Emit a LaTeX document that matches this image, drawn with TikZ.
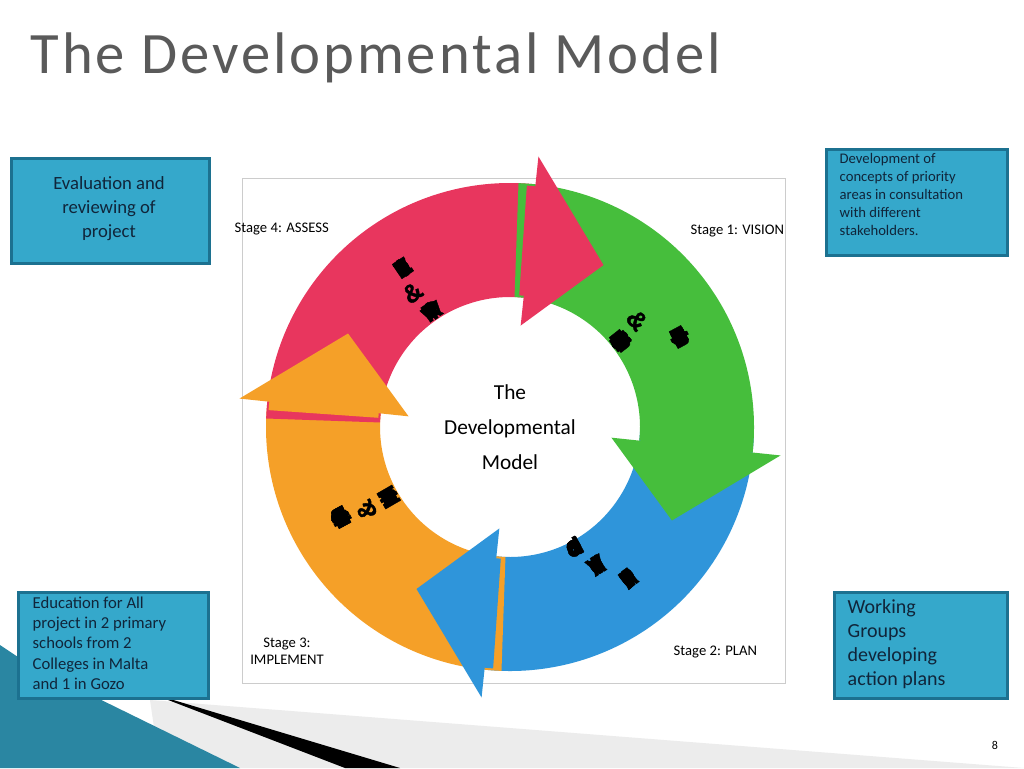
\documentclass[tikz,border=0pt]{standalone}
\usepackage{fontspec}
\setmainfont{Carlito}
\newfontfamily\heavy[FakeBold=1.5]{Liberation Sans}
\definecolor{boxfill}{HTML}{35A8CB}
\definecolor{boxline}{HTML}{1C7190}
\definecolor{boxtext}{HTML}{10253A}
\definecolor{titlegray}{HTML}{5A5A5A}
\definecolor{ared}{HTML}{E8365E}
\definecolor{agreen}{HTML}{46BE3C}
\definecolor{ablue}{HTML}{2F95DA}
\definecolor{aorange}{HTML}{F5A028}
\newcommand{\ringfont}{\heavy\bfseries\fontsize{19}{19}\selectfont}
\tikzset{
  infobox/.style={draw=boxline, line width=2pt, fill=boxfill, text=boxtext, anchor=north west, inner sep=0pt},
  stagelbl/.style={font=\fontsize{11}{13}\selectfont, text=black},
  ringletter/.style={font=\ringfont, inner sep=0pt}
}
\newcommand{\ringbody}[2]{% tip angle, colour
  \fill[#2] ({#1+118}:130) arc[start angle={#1+118}, end angle={#1+24}, radius=130]
    -- ({#1+24}:244) arc[start angle={#1+24}, end angle={#1+118}, radius=244] -- cycle;}
\newcommand{\ringhead}[2]{%
  \fill[#2] ({#1+26}:132) arc[start angle={#1+26}, end angle={#1+24}, radius=132]
    -- ({#1+24}:102) -- (#1:187) -- ({#1+24}:272) -- ({#1+24}:242)
    arc[start angle={#1+24}, end angle={#1+26}, radius=242] -- cycle;}
\newcommand{\atxt}[4]{% centre angle, radius, word, letters
  \setbox0\hbox{\ringfont #3}\pgfmathsetmacro{\tot}{\the\wd0}
  \xdef\off{0}
  \foreach \ch in {#4} {
    \setbox0\hbox{\ringfont\ch}
    \pgfmathsetmacro{\ang}{#1-(\off+\the\wd0/2-\tot/2)/(0.75*#2)*57.296}
    \node[ringletter, rotate=\ang-90] at (\ang:#2) {\ch};
    \pgfmathsetmacro{\newoff}{\off+\the\wd0}
    \xdef\off{\newoff}
  }}
\begin{document}
\begin{tikzpicture}[x=0.75pt,y=-0.75pt]
\useasboundingbox (0,0) rectangle (1024,768);
\fill[white] (0,0) rectangle (1024,768);
\fill[gray!15] (150,700) -- (1024,768) -- (160,768) -- cycle;
\fill[black] (150,693) -- (400,768) -- (345,768) -- cycle;
\fill[boxfill!80!black] (0,645) -- (30,665) -- (240,768) -- (0,768) -- cycle;
\node[anchor=west, text=titlegray, font=\fontsize{44}{48}\selectfont\addfontfeatures{LetterSpace=5}] (title) at (26,58) {The Developmental Model};
\draw[gray!40] (242,178) rectangle (785,683);
\node[stagelbl, anchor=west] (s4) at (230,229) {Stage 4: ASSESS};
\node[stagelbl, anchor=west] (s1) at (686,231) {Stage 1: VISION};
\node[stagelbl, anchor=west] (s2) at (669,652) {Stage 2: PLAN};
\node[stagelbl, align=center] (s3) at (287,651) {Stage 3:\\IMPLEMENT};
\begin{scope}[shift={(510,427)}, yscale=-1]
  \ringbody{-120}{ablue}
  \ringbody{150}{aorange}
  \ringbody{60}{ared}
  \ringbody{-30}{agreen}
  \ringhead{-120}{ablue}
  \ringhead{150}{aorange}
  \ringhead{60}{ared}
  \ringhead{-30}{agreen}
  \atxt{124}{192}{Evaluate}{E,v,a,l,u,a,t,e}
  \atxt{126}{166}{\&}{\&}
  \atxt{124}{140}{Review}{R,e,v,i,e,w}
  \atxt{28}{192}{Involvement}{I,n,v,o,l,v,e,m,e,n,t}
  \atxt{40}{166}{\&}{\&}
  \atxt{38}{140}{Engagement}{E,n,g,a,g,e,m,e,n,t}
  \atxt{-52}{192}{Identify}{I,d,e,n,t,i,f,y}
  \atxt{-58}{163}{Analyse}{A,n,a,l,y,s,e}
  \atxt{-62}{136}{Propose}{P,r,o,p,o,s,e}
  \atxt{-152}{192}{Implement}{I,m,p,l,e,m,e,n,t}
  \atxt{-150}{166}{\&}{\&}
  \atxt{-150}{140}{Monitor}{M,o,n,i,t,o,r}
\end{scope}
\node[align=center, font=\fontsize{16}{26}\selectfont] (centre) at (510,427) {The\\Developmental\\Model};
\node[infobox, minimum width=148.5pt, minimum height=78.75pt] (b1) at (10,157) {};
\node[text=boxtext, align=center, font=\fontsize{14}{18}\selectfont, anchor=north] at (109,172) {Evaluation and\\reviewing of\\project};
\node[infobox, minimum width=135.75pt, minimum height=79.5pt] (b2) at (825,148) {};
\node[text=boxtext, align=left, font=\fontsize{11}{13.5}\selectfont, anchor=north west] at (835,149) {Development of\\concepts of priority\\areas in consultation\\with different\\stakeholders.};
\node[infobox, minimum width=142.5pt, minimum height=79.5pt] (b3) at (17,591) {};
\node[text=boxtext, align=left, font=\fontsize{12.5}{15.2}\selectfont, anchor=north west] at (28,592) {Education for All\\project in 2 primary\\schools from 2\\Colleges in Malta\\and 1 in Gozo};
\node[infobox, minimum width=129.75pt, minimum height=79.5pt] (b4) at (833,591) {};
\node[text=boxtext, align=left, font=\fontsize{15}{18}\selectfont, anchor=north west] at (843,595) {Working\\Groups\\developing\\action plans};
\node[font=\fontsize{9}{10}\selectfont] (pg) at (995,745) {8};
\end{tikzpicture}
\end{document}
